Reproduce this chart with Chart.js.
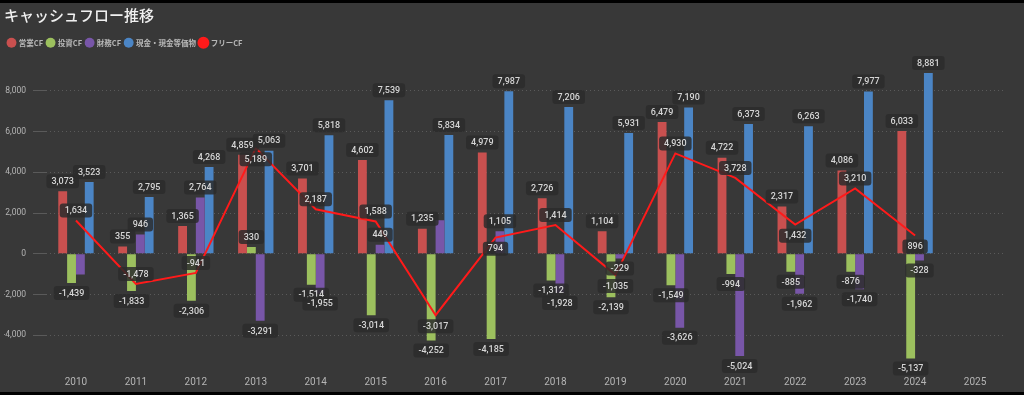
<!DOCTYPE html>
<html>
<head>
<meta charset="utf-8">
<script src="https://cdn.jsdelivr.net/npm/chart.js@4.4.1/dist/chart.umd.min.js"></script>
<style>
  html, body { margin: 0; padding: 0; background: #000; }
  #wrap { position: absolute; left: 0; top: 3px; width: 1024px; height: 389px; background: #383838; }
</style>
</head>
<body>
<div id="wrap"><canvas id="cfChart"></canvas></div>
<script>
// 年度
const years = ['2010','2011','2012','2013','2014','2015','2016','2017','2018','2019','2020','2021','2022','2023','2024','2025'];
// 単位: 百万円
const eigyoCF = [3073, 355, 1365, 4859, 3701, 4602, 1235, 4979, 2726, 1104, 6479, 4722, 2317, 4086, 6033, null];
const toshiCF = [-1439, -1833, -2306, 330, -1514, -3014, -4252, -4185, -1312, -2139, -1549, -994, -885, -876, -5137, null];
const zaimuCF = [-1016, 946, 2764, -3291, -1955, 449, 1650, 1105, -1928, -229, -3626, -5024, -1962, -1740, -328, null];
const genkin  = [3523, 2795, 4268, 5063, 5818, 7539, 5834, 7987, 7206, 5931, 7190, 6373, 6263, 7977, 8881, null];
const freeCF  = [1634, -1478, -941, 5189, 2187, 1588, -3017, 794, 1414, -1035, 4930, 3728, 1432, 3210, 896, null];
const yTicks  = [-4000, -2000, 0, 2000, 4000, 6000, 8000];

// ラベルの位置（フリーCF）と非表示にするラベル（財務CF）
const freeLabelBelow = [false, false, false, true, false, false, true, true, false, true, false, false, true, false, true, false];
const zaimuNoLabel = [0, 6];

const fmt = v => v.toLocaleString('en-US');

const valueLabels = {
  id: 'valueLabels',
  afterDatasetsDraw(chart) {
    const ctx = chart.ctx;
    ctx.save();
    ctx.font = '500 9px Roboto';
    ctx.textAlign = 'center';
    ctx.textBaseline = 'middle';
    chart.data.datasets.forEach((ds, i) => {
      const meta = chart.getDatasetMeta(i);
      meta.data.forEach((el, j) => {
        const v = ds.data[j];
        if (v == null) return;
        if (ds.noLabel && ds.noLabel.includes(j)) return;
        let y;
        if (ds.type === 'line') {
          y = freeLabelBelow[j] ? el.y + 11 : el.y - 10;
        } else {
          y = v >= 0 ? el.y - 10 : el.y + 10;
        }
        const txt = fmt(v);
        const w = ctx.measureText(txt).width + 10;
        const h = 14;
        ctx.fillStyle = 'rgba(44,44,44,0.85)';
        ctx.beginPath();
        ctx.roundRect(el.x - w / 2, y - h / 2, w, h, 3);
        ctx.fill();
        ctx.fillStyle = '#d6d6d6';
        ctx.fillText(txt, el.x, y + 0.5);
      });
    });
    ctx.restore();
  }
};

const ctx = document.getElementById('cfChart').getContext('2d');
const myChart = new Chart(ctx, {
  type: 'bar',
  data: {
    labels: years,
    datasets: [
      { label: '営業CF', data: eigyoCF, backgroundColor: '#c9504f', order: 1 },
      { label: '投資CF', data: toshiCF, backgroundColor: '#9cc05e', order: 1 },
      { label: '財務CF', data: zaimuCF, backgroundColor: '#7856a8', order: 1, noLabel: zaimuNoLabel },
      { label: '現金・現金等価物', data: genkin, backgroundColor: '#4b85c5', order: 1 },
      { label: 'フリーCF', type: 'line', data: freeCF, borderColor: '#ff1a1a', backgroundColor: '#ff1a1a',
        borderWidth: 2, pointRadius: 0, pointHoverRadius: 0, tension: 0, order: 0 }
    ]
  },
  options: {
    responsive: true,
    maintainAspectRatio: false,
    animation: false,
    datasets: { bar: { categoryPercentage: 0.59, barPercentage: 1.0 } },
    layout: { padding: { left: 4, right: 19, top: 0, bottom: 0 } },
    plugins: {
      title: {
        display: true,
        text: 'キャッシュフロー推移',
        align: 'start',
        color: '#f0f0f0',
        font: { family: 'Noto Sans CJK JP', size: 15, weight: '500' },
        padding: { top: 3, bottom: 11 }
      },
      legend: {
        display: true,
        align: 'start',
        labels: {
          color: '#b8b8b8',
          usePointStyle: true,
          pointStyle: 'circle',
          boxWidth: 7,
          boxHeight: 7,
          padding: 4,
          sort: (a, b) => a.datasetIndex - b.datasetIndex,
          font: { family: 'Noto Sans CJK JP', size: 7.5, weight: '600' }
        }
      },
      tooltip: { enabled: false }
    },
    scales: {
      x: {
        grid: { display: false, drawTicks: false, tickLength: 0 },
        border: { display: false },
        ticks: { color: '#b5b5b5', font: { family: 'Roboto', size: 10 }, padding: 4 }
      },
      y: {
        min: -5805,
        max: 9690,
        afterBuildTicks: axis => { axis.ticks = yTicks.map(v => ({ value: v })); },
        afterFit: axis => { axis.width = 42; },
        grid: { color: '#5a5a5a', lineWidth: 1, tickLength: 13 },
        border: { display: false, dash: [1, 3] },
        ticks: { color: '#b5b5b5', font: { family: 'Roboto', size: 8.5 }, padding: 7, callback: v => fmt(v) }
      }
    }
  },
  plugins: [valueLabels]
});
</script>
</body>
</html>
